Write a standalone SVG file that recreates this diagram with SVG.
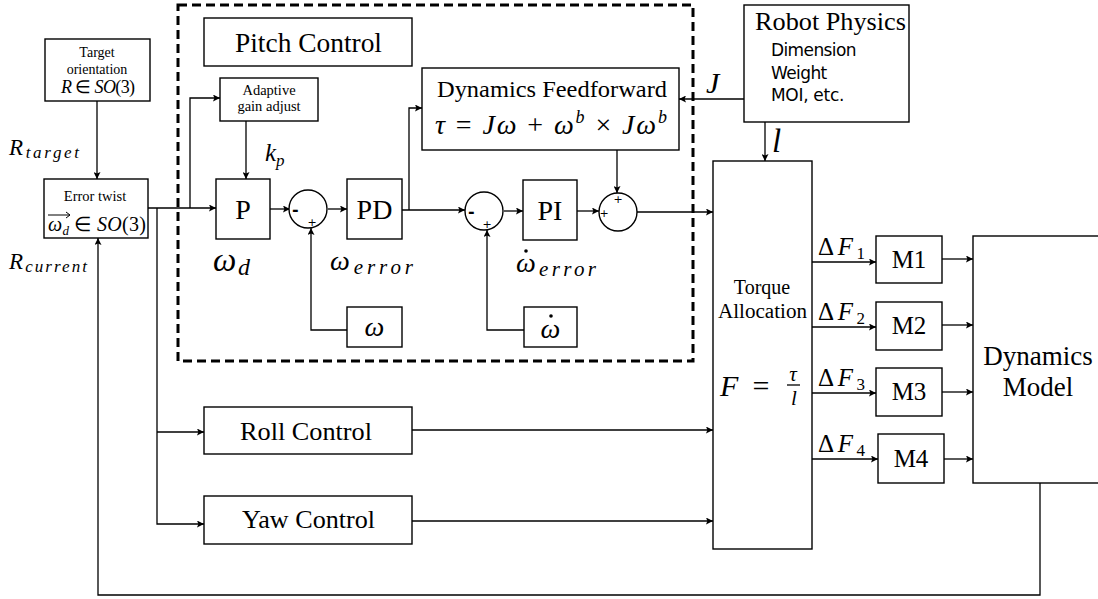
<svg xmlns="http://www.w3.org/2000/svg" width="1098" height="599" viewBox="0 0 1098 599">
<style>
.b{fill:#fff;stroke:#000;stroke-width:1.4}
.c{fill:none;stroke:#000;stroke-width:1.3}
.s{font-family:"Liberation Serif","Times New Roman",serif;fill:#000}
.m{font-family:"Liberation Serif","Times New Roman",serif;font-style:italic;fill:#000}
.n{font-style:normal}
.a{font-family:"DejaVu Sans","Liberation Sans",sans-serif;fill:#000}
</style>
<defs>
<marker id="ar" viewBox="0 0 10 10" refX="10" refY="5" markerWidth="9" markerHeight="7" markerUnits="userSpaceOnUse" orient="auto">
<path d="M0,0 L10,5 L0,10 L2,5 Z" fill="#000"/>
</marker>
</defs>
<rect x="178" y="5" width="515" height="356" fill="none" stroke="#000" stroke-width="3" stroke-dasharray="9,5"/>
<g id="connectors" class="c">
<path d="M97,101 V179" marker-end="url(#ar)"/>
<path d="M1040,483 V595 H98 V238" marker-end="url(#ar)"/>
<path d="M148,208 H216" marker-end="url(#ar)"/>
<path d="M190,208 V98 H220" marker-end="url(#ar)"/>
<path d="M157,208 V524 H204" marker-end="url(#ar)"/>
<path d="M157,432 H204" marker-end="url(#ar)"/>
<path d="M246,121 V179" marker-end="url(#ar)"/>
<path d="M270,209 H290" marker-end="url(#ar)"/>
<path d="M328,209 H347" marker-end="url(#ar)"/>
<path d="M402,210 H465" marker-end="url(#ar)"/>
<path d="M409,210 V108 H422" marker-end="url(#ar)"/>
<path d="M347,330 H311 V228" marker-end="url(#ar)"/>
<path d="M504,211 H523" marker-end="url(#ar)"/>
<path d="M524,330 H487 V230" marker-end="url(#ar)"/>
<path d="M577,211 H599" marker-end="url(#ar)"/>
<path d="M617,150 V193" marker-end="url(#ar)"/>
<path d="M637,212 H713" marker-end="url(#ar)"/>
<path d="M744,99 H679" marker-end="url(#ar)"/>
<path d="M765,122 V161" marker-end="url(#ar)"/>
<path d="M412,430 H713" marker-end="url(#ar)"/>
<path d="M412,521 H713" marker-end="url(#ar)"/>
<path d="M812,262 H876" marker-end="url(#ar)"/>
<path d="M812,327 H876" marker-end="url(#ar)"/>
<path d="M812,393 H876" marker-end="url(#ar)"/>
<path d="M812,459 H878" marker-end="url(#ar)"/>
<path d="M942,259 H973" marker-end="url(#ar)"/>
<path d="M942,325 H973" marker-end="url(#ar)"/>
<path d="M942,392 H973" marker-end="url(#ar)"/>
<path d="M944,459 H973" marker-end="url(#ar)"/>
</g>
<g id="target">
<rect class="b" x="45" y="39" width="105" height="62"/>
<text class="s" x="97" y="57" font-size="14" text-anchor="middle">Target</text>
<text class="s" x="97" y="74" font-size="14" text-anchor="middle">orientation</text>
<text class="m" x="61" y="93" font-size="18" textLength="74" lengthAdjust="spacing">R <tspan class="n">∈</tspan> SO<tspan class="n">(3)</tspan></text>
</g>
<g id="errortwist">
<rect class="b" x="44" y="179" width="104" height="59"/>
<text class="s" x="95" y="201" font-size="14.5" text-anchor="middle">Error twist</text>
<path d="M48,215 H70 M66,212 L70,215 L66,218" fill="none" stroke="#000" stroke-width="1"/>
<text class="m" x="48" y="231" font-size="20" textLength="98" lengthAdjust="spacing">ω<tspan font-size="13" dy="4">d</tspan><tspan dy="-4"> <tspan class="n">∈</tspan> SO<tspan class="n">(3)</tspan></tspan></text>
</g>
<text class="m" x="9" y="155" font-size="23" textLength="70" lengthAdjust="spacing">R<tspan font-size="17" dy="3">target</tspan></text>
<text class="m" x="9" y="269" font-size="23" textLength="78" lengthAdjust="spacing">R<tspan font-size="17" dy="3">current</tspan></text>
<g id="pitch">
<rect class="b" x="204" y="18" width="208" height="48"/>
<text class="s" x="235" y="52" font-size="27" textLength="147" lengthAdjust="spacingAndGlyphs">Pitch Control</text>
</g>
<g id="adaptive">
<rect class="b" x="220" y="78" width="98" height="43"/>
<text class="s" x="269" y="95" font-size="14.5" text-anchor="middle">Adaptive</text>
<text class="s" x="269" y="111" font-size="14.5" text-anchor="middle">gain adjust</text>
</g>
<text class="m" x="265" y="161" font-size="25">k<tspan font-size="17" dy="5">p</tspan></text>
<g id="P">
<rect class="b" x="216" y="179" width="54" height="60"/>
<text class="s" x="243" y="219" font-size="28" text-anchor="middle">P</text>
</g>
<g id="sum1">
<circle class="b" cx="308" cy="209" r="19"/>
<text class="a" x="292" y="215" font-size="16" font-weight="bold">-</text>
<text class="a" x="312" y="226" font-size="11" text-anchor="middle">+</text>
</g>
<g id="PD">
<rect class="b" x="347" y="179" width="55" height="60"/>
<text class="s" x="374.5" y="219" font-size="28" text-anchor="middle">PD</text>
</g>
<text class="m" x="213" y="271" font-size="33" textLength="37" lengthAdjust="spacing">ω<tspan font-size="24" dy="4">d</tspan></text>
<text class="m" x="330" y="270" font-size="28" textLength="83" lengthAdjust="spacing">ω<tspan font-size="21" dy="4">error</tspan></text>
<g id="omega">
<rect class="b" x="347" y="307" width="55" height="40"/>
<text class="m" x="374.5" y="336" font-size="28" text-anchor="middle">ω</text>
</g>
<g id="sum2">
<circle class="b" cx="484" cy="211" r="19"/>
<text class="a" x="468" y="217" font-size="16" font-weight="bold">-</text>
<text class="a" x="487" y="228" font-size="11" text-anchor="middle">+</text>
</g>
<g id="PI">
<rect class="b" x="523" y="180" width="54" height="60"/>
<text class="s" x="550" y="220" font-size="28" text-anchor="middle">PI</text>
</g>
<text class="m" x="516" y="272" font-size="28" textLength="80" lengthAdjust="spacing">ω<tspan font-size="21" dy="4">error</tspan></text>
<circle cx="526" cy="251" r="1.8" fill="#000"/>
<g id="omegadot">
<rect class="b" x="524" y="307" width="53" height="40"/>
<text class="m" x="550.5" y="338" font-size="28" text-anchor="middle">ω</text>
<circle cx="551" cy="316" r="1.8" fill="#000"/>
</g>
<g id="sum3">
<circle class="b" cx="618" cy="212" r="19"/>
<text class="a" x="604" y="217" font-size="11" text-anchor="middle">+</text>
<text class="a" x="618" y="203" font-size="11" text-anchor="middle">+</text>
</g>
<g id="dff">
<rect class="b" x="422" y="68" width="257" height="82"/>
<text class="s" x="437" y="97" font-size="24" textLength="230" lengthAdjust="spacingAndGlyphs">Dynamics Feedforward</text>
<text class="m" x="435" y="134" font-size="28" textLength="232" lengthAdjust="spacing">τ <tspan class="n">=</tspan> Jω <tspan class="n">+</tspan> ω<tspan font-size="18" dy="-11">b</tspan><tspan dy="11"> <tspan class="n">×</tspan> Jω</tspan><tspan font-size="18" dy="-11">b</tspan></text>
</g>
<text class="m" x="706" y="93" font-size="30">J</text>
<g id="robot">
<rect class="b" x="744" y="5" width="165" height="117"/>
<text class="s" x="755" y="30" font-size="25" textLength="151" lengthAdjust="spacingAndGlyphs">Robot Physics</text>
<text class="a" x="771" y="56" font-size="17" letter-spacing="-0.6">Dimension</text>
<text class="a" x="771" y="79" font-size="17" letter-spacing="-0.6">Weight</text>
<text class="a" x="771" y="101" font-size="17" letter-spacing="-0.3">MOI, etc.</text>
</g>
<text class="m" x="772" y="152" font-size="33">l</text>
<g id="torque">
<rect class="b" x="713" y="161" width="99" height="388"/>
<text class="s" x="762" y="294" font-size="20" text-anchor="middle">Torque</text>
<text class="s" x="718" y="318" font-size="20" textLength="89" lengthAdjust="spacingAndGlyphs">Allocation</text>
<text class="m" x="720" y="396" font-size="30">F</text>
<text class="s" x="761" y="396" font-size="30" text-anchor="middle">=</text>
<text class="m" x="793" y="381" font-size="21" text-anchor="middle">τ</text>
<line x1="787" y1="385" x2="800" y2="385" stroke="#000" stroke-width="1.3"/>
<text class="m" x="794" y="405" font-size="21" text-anchor="middle">l</text>
</g>
<g id="roll">
<rect class="b" x="204" y="407" width="208" height="47"/>
<text class="s" x="240" y="440" font-size="26" textLength="132" lengthAdjust="spacingAndGlyphs">Roll Control</text>
</g>
<g id="yaw">
<rect class="b" x="204" y="496" width="208" height="48"/>
<text class="s" x="242" y="528" font-size="26" textLength="133" lengthAdjust="spacingAndGlyphs">Yaw Control</text>
</g>
<text class="m" x="818" y="255" font-size="25" textLength="47" lengthAdjust="spacing"><tspan class="n">Δ</tspan>F<tspan font-size="17" dy="4" class="n">1</tspan></text>
<text class="m" x="818" y="320" font-size="25" textLength="47" lengthAdjust="spacing"><tspan class="n">Δ</tspan>F<tspan font-size="17" dy="4" class="n">2</tspan></text>
<text class="m" x="818" y="386" font-size="25" textLength="47" lengthAdjust="spacing"><tspan class="n">Δ</tspan>F<tspan font-size="17" dy="4" class="n">3</tspan></text>
<text class="m" x="818" y="452" font-size="25" textLength="47" lengthAdjust="spacing"><tspan class="n">Δ</tspan>F<tspan font-size="17" dy="4" class="n">4</tspan></text>
<g id="M1"><rect class="b" x="876" y="236" width="66" height="47"/><text class="s" x="909" y="268" font-size="25" text-anchor="middle">M1</text></g>
<g id="M2"><rect class="b" x="876" y="302" width="66" height="48"/><text class="s" x="909" y="334" font-size="25" text-anchor="middle">M2</text></g>
<g id="M3"><rect class="b" x="876" y="368" width="66" height="48"/><text class="s" x="909" y="400" font-size="25" text-anchor="middle">M3</text></g>
<g id="M4"><rect class="b" x="878" y="434" width="66" height="49"/><text class="s" x="911" y="467" font-size="25" text-anchor="middle">M4</text></g>
<g id="dynmodel">
<rect class="b" x="973" y="236" width="140" height="247"/>
<text class="s" x="1038" y="365" font-size="27" text-anchor="middle">Dynamics</text>
<text class="s" x="1038" y="396" font-size="27" text-anchor="middle">Model</text>
</g>
</svg>
